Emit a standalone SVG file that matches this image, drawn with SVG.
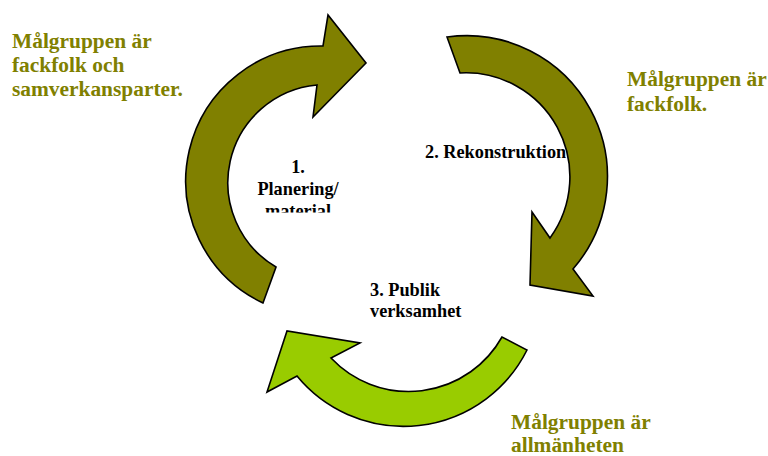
<svg xmlns="http://www.w3.org/2000/svg" width="768" height="456" viewBox="0 0 768 456">
<style>
.arrow{stroke:#000;stroke-width:1.6;stroke-linejoin:miter}
.olive{fill:#808000}
.green{fill:#99CC00}
.step{font-family:"Liberation Serif","Times New Roman",serif;font-weight:bold;font-size:18.3px;fill:#000}
.target{font-family:"Liberation Serif","Times New Roman",serif;font-weight:bold;font-size:21.4px;fill:#808000}
</style>
<defs>
<clipPath id="clip1"><rect x="240" y="140" width="120" height="72.5"/></clipPath>
</defs>
<rect width="768" height="456" fill="#fff"/>
<g id="connectors">
<path id="arrow-1" class="arrow olive" d="M 263,303 A 135,135 0 0 1 323,46 L 328,15 L 366,63 L 313,117 L 317,85 A 98,98 0 0 0 276,267 Z"/>
<path id="arrow-2" class="arrow olive" d="M 447,37 A 141,141 0 0 1 573,269 L 593,296 L 530,285 L 532,212 L 550,238 A 104,104 0 0 0 460,73 Z"/>
<path id="arrow-3" class="arrow green" d="M 527,350 A 138,138 0 0 1 297,376 L 267,392 L 287,331 L 360,343 L 331,358 A 107,107 0 0 0 502,337 Z"/>
</g>
<g id="node-1">
<g clip-path="url(#clip1)">
<text class="step" text-anchor="middle"><tspan x="298" y="173">1.</tspan><tspan x="298" y="195">Planering/</tspan><tspan x="298" y="217">material</tspan></text>
</g>
</g>
<g id="node-2">
<text class="step" x="425" y="158">2. Rekonstruktion</text>
</g>
<g id="node-3">
<text class="step"><tspan x="370" y="296">3. Publik</tspan><tspan x="370" y="317">verksamhet</tspan></text>
</g>
<g id="target-1">
<text class="target"><tspan x="12" y="48">Målgruppen är</tspan><tspan x="12" y="72">fackfolk och</tspan><tspan x="12" y="96">samverkansparter.</tspan></text>
</g>
<g id="target-2">
<text class="target"><tspan x="627" y="86">Målgruppen är</tspan><tspan x="627" y="111">fackfolk.</tspan></text>
</g>
<g id="target-3">
<text class="target"><tspan x="511" y="429">Målgruppen är</tspan><tspan x="511" y="452">allmänheten</tspan></text>
</g>
</svg>
